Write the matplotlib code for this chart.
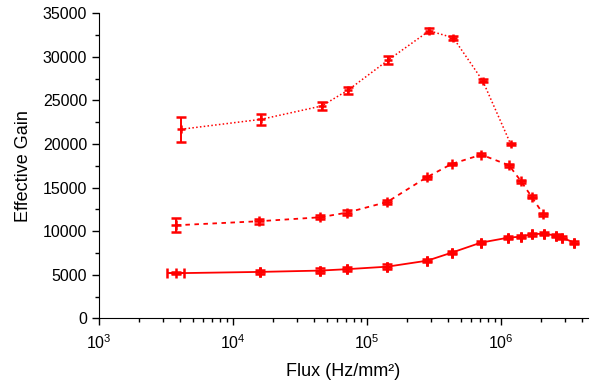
import matplotlib
matplotlib.use('Agg')
import matplotlib.pyplot as plt
from matplotlib.ticker import LogLocator, MultipleLocator, NullFormatter

plt.rcParams['font.family'] = ['Liberation Sans', 'DejaVu Sans']
plt.rcParams['mathtext.fontset'] = 'custom'
plt.rcParams['mathtext.rm'] = 'Liberation Sans'

# serie du haut (pointillés)
flux_top = [4090, 16200, 45900, 72400, 144000, 291000, 440000, 730000, 1180000]
gain_top = [21680, 22820, 24350, 26180, 29620, 32970, 32170, 27240, 19990]
err_top = [1430, 630, 500, 400, 450, 300, 200, 150, 100]

# serie du milieu (tirets)
flux_mid = [3780, 15700, 44600, 70600, 141600, 279000, 428000, 713000,
            1148000, 1410000, 1690000, 2070000]
gain_mid = [10680, 11140, 11590, 12120, 13350, 16180, 17700, 18770,
            17550, 15720, 13950, 11940]
err_mid = [800, 300, 250, 250, 200, 150, 150, 150, 150, 150, 150, 150]

# serie du bas (trait plein)
flux_bot = [3730, 15900, 44600, 70600, 141600, 282000, 429000, 706000,
            1135000, 1410000, 1690000, 2100000, 2560000, 2850000, 3520000]
gain_bot = [5180, 5330, 5480, 5640, 5930, 6620, 7540, 8680,
            9260, 9370, 9650, 9720, 9490, 9260, 8680]
err_bot = [100, 250, 250, 250, 250, 200, 200, 150, 150, 150, 150, 150, 150, 150, 150]
xerr_bot_lo = [520] + [0] * 14
xerr_bot_hi = [570] + [0] * 14

rouge = '#ff0000'

fig = plt.figure(figsize=(5.91, 3.85), dpi=100)
ax = fig.add_axes([0.1675, 0.173, 0.8275, 0.793])

ax.errorbar(flux_top, gain_top, yerr=err_top, color=rouge, linestyle=(0, (1, 1.5)), lw=1.1,
            marker='+', ms=6, mew=1.8, capsize=3.5, elinewidth=1.4, capthick=1.4)
ax.errorbar(flux_mid, gain_mid, yerr=err_mid, color=rouge, linestyle=(0, (2.5, 2.5)), lw=1.3,
            marker='+', ms=7, mew=1.8, capsize=3.5, elinewidth=1.4, capthick=1.4)
ax.errorbar(flux_bot, gain_bot, yerr=err_bot, xerr=[xerr_bot_lo, xerr_bot_hi], color=rouge,
            linestyle='-', lw=1.3, marker='+', ms=7.5, mew=1.8, capsize=3.5,
            elinewidth=1.4, capthick=1.4)

ax.set_xscale('log')
ax.set_xlim(1e3, 4.46e6)
ax.set_ylim(0, 35000)
ax.yaxis.set_major_locator(MultipleLocator(5000))
ax.yaxis.set_minor_locator(MultipleLocator(2500))
ax.xaxis.set_major_locator(LogLocator(base=10, numticks=10))
ax.xaxis.set_minor_locator(LogLocator(base=10, subs=range(2, 10), numticks=20))
ax.xaxis.set_minor_formatter(NullFormatter())

ax.spines['top'].set_visible(False)
ax.spines['right'].set_visible(False)
ax.tick_params(which='major', direction='out', length=5, width=1, labelsize=11.5)
ax.tick_params(axis='x', which='major', pad=6)
ax.tick_params(which='minor', direction='out', length=3, width=1)

ax.set_xlabel('Flux (Hz/mm²)', fontsize=13, labelpad=8)
ax.set_ylabel('Effective Gain', fontsize=13, labelpad=8)

fig.savefig('out.png', dpi=100)
